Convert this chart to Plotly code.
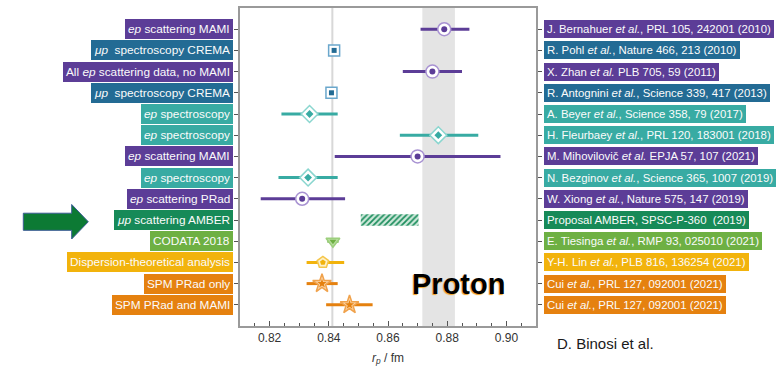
import plotly.graph_objects as go

# ---------------- data ----------------
row_labels = [
    "<i>ep</i> scattering MAMI",
    "<i>μp</i>  spectroscopy CREMA",
    "All <i>ep</i> scattering data, no MAMI",
    "<i>μp</i>  spectroscopy CREMA",
    "<i>ep</i> spectroscopy",
    "<i>ep</i> spectroscopy",
    "<i>ep</i> scattering MAMI",
    "<i>ep</i> spectroscopy",
    "<i>ep</i> scattering PRad",
    "<i>μp</i> scattering AMBER",
    "CODATA 2018",
    "Dispersion-theoretical analysis",
    "SPM PRad only",
    "SPM PRad and MAMI",
]
references = [
    "J. Bernahuer <i>et al.</i>, PRL 105, 242001 (2010)",
    "R. Pohl <i>et al.</i>, Nature 466, 213 (2010)",
    "X. Zhan <i>et al.</i> PLB 705, 59 (2011)",
    "R. Antognini <i>et al.</i>, Science 339, 417 (2013)",
    "A. Beyer <i>et al.</i>, Science 358, 79 (2017)",
    "H. Fleurbaey <i>et al.</i>, PRL 120, 183001 (2018)",
    "M. Mihovilovič <i>et al.</i> EPJA 57, 107 (2021)",
    "N. Bezginov <i>et al.</i>, Science 365, 1007 (2019)",
    "W. Xiong <i>et al.</i>, Nature 575, 147 (2019)",
    "Proposal AMBER, SPSC-P-360  (2019)",
    "E. Tiesinga <i>et al.</i>, RMP 93, 025010 (2021)",
    "Y-H. Lin <i>et al.</i>, PLB 816, 136254 (2021)",
    "Cui <i>et al.</i>, PRL 127, 092001 (2021)",
    "Cui <i>et al.</i>, PRL 127, 092001 (2021)",
]
groups = ["ep_scat", "mup_spec", "ep_scat", "mup_spec", "ep_spec", "ep_spec",
          "ep_scat", "ep_spec", "ep_scat", "amber", "codata", "disp", "spm", "spm"]
radius = [0.879, 0.8418, 0.875, 0.8409, 0.8335, 0.877, 0.870, 0.833, 0.831,
          None, 0.8414, 0.838, 0.8377, 0.847]
err_minus = [0.008, 0.0007, 0.010, 0.0004, 0.0095, 0.013, 0.028, 0.010, 0.014,
             None, 0.0019, 0.0055, 0.0052, 0.0079]
err_plus = [0.0085, 0.0007, 0.010, 0.0004, 0.0095, 0.0135, 0.028, 0.010, 0.0145,
            None, 0.0019, 0.0072, 0.0053, 0.0078]
amber_range = [0.8508, 0.8703]
ep_band = [0.8716, 0.8826]
codata_value = 0.8412
x_ticks = [0.82, 0.84, 0.86, 0.88, 0.90]
x_tick_text = ["0.82", "0.84", "0.86", "0.88", "0.90"]

# ---------------- styles ----------------
styles = {
    "ep_scat": dict(color="#5c3d97", light="#a892d2", fill="white", sym="circle", so=13, si=6),
    "mup_spec": dict(color="#236b94", light="#6aa7cc", fill="white", sym="square", so=11, si=5),
    "ep_spec": dict(color="#38aba3", light="#8ad6cf", fill="white", sym="diamond", so=13, si=6),
    "amber": dict(color="#178a58", light="#178a58", fill="white", sym="square", so=1, si=1),
    "codata": dict(color="#6eb043", light="#9ccf7c", fill="#b9dea1", sym="triangle-down", so=12, si=6),
    "disp": dict(color="#f2b30c", light="#f5c64a", fill="#fdf0c8", sym="pentagon", so=12, si=6),
    "spm": dict(color="#e5810f", light="#f0a24c", fill="#fbd4a6", sym="star", so=14, si=7),
}

FONT = "Liberation Sans, Arial, sans-serif"
L, R, T, B = 240, 246, 6, 34
W, H = 782, 369
PW, PH = W - L - R, H - T - B


def px_to_paper(px, py):
    return (px - L) / PW, (H - B - py) / PH


fig = go.Figure()

# AMBER hatched bar
fig.add_trace(go.Bar(
    y=[10], x=[amber_range[1] - amber_range[0]], base=[amber_range[0]],
    orientation="h", width=0.55,
    marker=dict(color="#c9e6d6", line=dict(width=0),
                pattern=dict(shape="/", fgcolor="#1f8f5f", bgcolor="#cfe9db",
                             size=4, solidity=0.45, fillmode="replace")),
    showlegend=False, hoverinfo="skip"))

for g, st in styles.items():
    idx = [i for i, gg in enumerate(groups) if gg == g and radius[i] is not None]
    if not idx:
        continue
    ys = [i + 1 for i in idx]
    xs = [radius[i] for i in idx]
    fig.add_trace(go.Scatter(
        x=xs, y=ys, mode="markers",
        error_x=dict(type="data", symmetric=False,
                     array=[err_plus[i] for i in idx],
                     arrayminus=[err_minus[i] for i in idx],
                     color=st["color"], thickness=3, width=0),
        marker=dict(symbol=st["sym"], size=st["so"], color=st["fill"],
                    line=dict(color=st["light"], width=1.5)),
        showlegend=False, hoverinfo="skip"))
    fig.add_trace(go.Scatter(
        x=xs, y=ys, mode="markers",
        marker=dict(symbol=st["sym"], size=st["si"], color=st["color"],
                    line=dict(width=0)),
        showlegend=False, hoverinfo="skip"))

shapes = [
    dict(type="rect", xref="x", yref="paper", x0=ep_band[0], x1=ep_band[1], y0=0, y1=1,
         fillcolor="#e4e4e4", line=dict(width=0), layer="below"),
    dict(type="line", xref="x", yref="paper", x0=codata_value, x1=codata_value, y0=0, y1=1,
         line=dict(color="#d8d8d8", width=2), layer="below"),
]

# big arrow on the left
arrow_px = [(23.3, 218.3), (71.7, 218.3), (71.7, 209.3), (88.3, 227.2),
            (71.7, 245.0), (71.7, 236.0), (23.3, 236.0)]
pts = [px_to_paper(a, b) for a, b in arrow_px]
path = "M " + " L ".join(f"{a:.4f},{b:.4f}" for a, b in pts) + " Z"
shapes.append(dict(type="path", xref="paper", yref="paper", path=path,
                   fillcolor="#0c7a34", line=dict(color="#3b5d94", width=1)))

annotations = []
for i, (lab, ref, g) in enumerate(zip(row_labels, references, groups)):
    c = styles[g]["color"]
    annotations.append(dict(
        xref="paper", yref="y", x=(233 - L) / PW, y=i + 1, xanchor="right", yanchor="middle",
        text=lab, showarrow=False, bgcolor=c, bordercolor=c, borderwidth=1, borderpad=2,
        font=dict(family=FONT, size=11.8, color="#fbfbfb")))
    annotations.append(dict(
        xref="paper", yref="y", x=(543.5 - L) / PW, y=i + 1, xanchor="left", yanchor="middle",
        text=ref, showarrow=False, bgcolor=c, bordercolor=c, borderwidth=1, borderpad=2,
        font=dict(family=FONT, size=11.4, color="#fbfbfb")))

annotations.append(dict(
    xref="x", yref="y", x=0.8837, y=13.02, text="Proton", showarrow=False,
    xanchor="center", yanchor="middle",
    font=dict(family=FONT, size=29, color="black", weight="bold",
              shadow="-1px 1px 1px #f0a020")))
bx, by = px_to_paper(555, 353)
annotations.append(dict(
    xref="paper", yref="paper", x=bx, y=by, text="D. Binosi et al.", showarrow=False,
    xanchor="left", yanchor="middle", font=dict(family=FONT, size=15, color="#1a1a1a")))

fig.update_layout(
    width=W, height=H, margin=dict(l=L, r=R, t=T, b=B),
    paper_bgcolor="white", plot_bgcolor="white",
    font=dict(family=FONT, size=12, color="#333"),
    shapes=shapes, annotations=annotations, showlegend=False,
    xaxis=dict(range=[0.81, 0.91], tickvals=x_ticks, ticktext=x_tick_text,
               ticks="inside", ticklen=5, tickcolor="#555", tickwidth=1,
               minor=dict(dtick=0.005, tick0=0.81, ticks="inside", ticklen=3,
                          tickcolor="#555", showgrid=False),
               showgrid=False, zeroline=False, showline=True, linecolor="#9a9a9a",
               linewidth=1.5, mirror=True,
               tickfont=dict(family=FONT, size=12, color="#333"),
               title=dict(text="<i>r<sub>p</sub></i> / fm", standoff=9,
                          font=dict(family=FONT, size=12, color="#333"))),
    yaxis=dict(range=[15, 0], tickvals=list(range(1, 15)), showticklabels=False,
               ticks="outside", ticklen=4, tickcolor="#555", tickwidth=1,
               showgrid=False, zeroline=False, showline=True, linecolor="#9a9a9a",
               linewidth=1.5, mirror="ticks"),
)

fig.write_html("out.html")
